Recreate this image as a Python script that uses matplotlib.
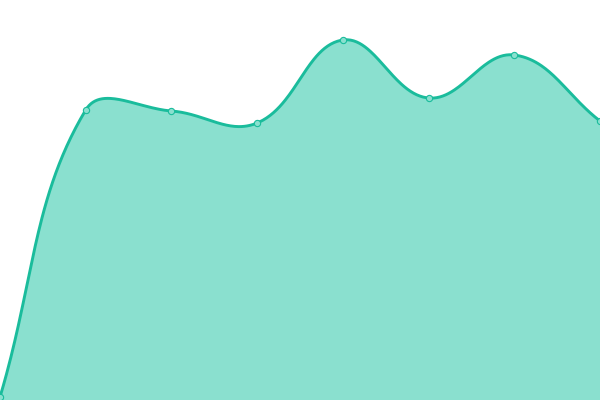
import numpy as np
import matplotlib
matplotlib.use("Agg")
import matplotlib.pyplot as plt

# values (pixel height from the bottom, 0..400)
labels = ["1", "2", "3", "4", "5", "6", "7", "8"]
values = [3, 290, 289, 277, 360, 302, 345, 279]

line_color = "#1abc9c"
fill_color = "#8ae0cf"

# chart.js style spline (tension 0.4), worked out in pixel units
tension = 0.4
n = len(values)
px = np.arange(n) * 600.0 / (n - 1)
py = np.array(values, dtype=float)

cp_prev = np.zeros((n, 2))
cp_next = np.zeros((n, 2))
for i in range(n):
    prev = np.array([px[max(i - 1, 0)], py[max(i - 1, 0)]])
    cur = np.array([px[i], py[i]])
    nxt = np.array([px[min(i + 1, n - 1)], py[min(i + 1, n - 1)]])
    d01 = np.hypot(*(cur - prev))
    d12 = np.hypot(*(nxt - cur))
    s01 = d01 / (d01 + d12) if d01 + d12 else 0
    s12 = d12 / (d01 + d12) if d01 + d12 else 0
    cp_prev[i] = cur - tension * s01 * (nxt - prev)
    cp_next[i] = cur + tension * s12 * (nxt - prev)

t = np.linspace(0, 1, 60)[:, None]
curve = []
for i in range(n - 1):
    p0 = np.array([px[i], py[i]])
    p3 = np.array([px[i + 1], py[i + 1]])
    p1, p2 = cp_next[i], cp_prev[i + 1]
    seg = (1 - t) ** 3 * p0 + 3 * (1 - t) ** 2 * t * p1 + 3 * (1 - t) * t ** 2 * p2 + t ** 3 * p3
    curve.append(seg if i == 0 else seg[1:])
curve = np.vstack(curve)
curve[:, 1] = np.clip(curve[:, 1], 0, 400)

fig = plt.figure(figsize=(6, 4), dpi=100)
ax = fig.add_axes([0, 0, 1, 1])
ax.fill_between(curve[:, 0], curve[:, 1], 0, color=fill_color, linewidth=0)
ax.plot(curve[:, 0], curve[:, 1], color=line_color, linewidth=2.1, solid_capstyle="butt")
ax.plot(px, py, "o", markersize=4.5, markerfacecolor=fill_color,
        markeredgecolor=line_color, markeredgewidth=0.8, clip_on=False)

ax.set_xlim(0, 600)
ax.set_ylim(0, 400)
ax.axis("off")

fig.savefig("out.png", dpi=100)
